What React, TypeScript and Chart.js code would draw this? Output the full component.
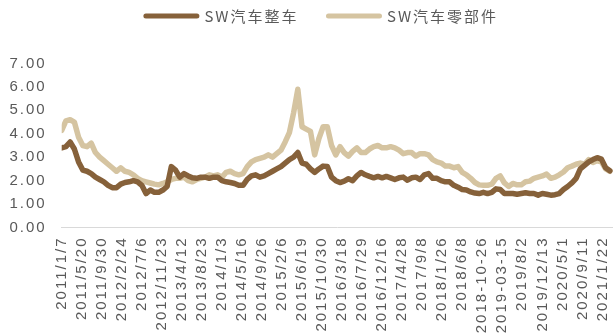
import { useEffect, useRef } from 'react';
import { Chart, registerables } from 'chart.js';

Chart.register(...registerables);

// x-axis tick labels (one every 19 weekly observations)
const tickLabels = [
  '2011/1/7', '2011/5/20', '2011/9/30', '2012/2/24', '2012/7/6', '2012/11/23',
  '2013/4/12', '2013/8/23', '2014/1/3', '2014/5/16', '2014/9/26', '2015/2/6',
  '2015/6/19', '2015/10/30', '2016/3/18', '2016/7/29', '2016/12/16', '2017/4/28',
  '2017/9/8', '2018/1/26', '2018/6/8', '2018-10-26', '2019-03-15', '2019/8/2',
  '2019/12/13', '2020/5/1', '2020/9/11', '2021/1/22',
];
const weeksPerTick = 19;
const sampleStep = 4; // weeks between the sampled values below
const lastWeek = 523;

const seriesNames = ['SW汽车整车', 'SW汽车零部件'];

// SW汽车整车
const autoValues = [
  3.4, 3.45, 3.65, 3.35, 2.8, 2.45, 2.4, 2.3, 2.15, 2.05,
  1.95, 1.8, 1.7, 1.7, 1.85, 1.92, 1.95, 2.0, 1.95, 1.8,
  1.45, 1.6, 1.5, 1.5, 1.6, 1.75, 2.6, 2.45, 2.15, 2.3,
  2.2, 2.12, 2.1, 2.15, 2.15, 2.1, 2.15, 2.15, 2.0, 1.95,
  1.92, 1.88, 1.8, 1.8, 2.05, 2.2, 2.25, 2.15, 2.2, 2.3,
  2.4, 2.5, 2.6, 2.75, 2.9, 3.0, 3.2, 2.75, 2.7, 2.5,
  2.35, 2.5, 2.62, 2.6, 2.15, 2.0, 1.92, 1.98, 2.08, 2.0,
  2.2, 2.35, 2.25, 2.18, 2.12, 2.18, 2.12, 2.18, 2.12, 2.05,
  2.12, 2.15, 2.02, 2.12, 2.15, 2.05, 2.25, 2.3, 2.1, 2.1,
  2.0, 1.95, 1.95, 1.8, 1.72, 1.62, 1.6, 1.52, 1.47, 1.45,
  1.5, 1.45, 1.5, 1.65, 1.62, 1.45, 1.45, 1.45, 1.42, 1.45,
  1.48, 1.45, 1.45, 1.38, 1.45, 1.42, 1.38, 1.4, 1.45, 1.62,
  1.75, 1.9, 2.1, 2.5, 2.65, 2.8, 2.9, 2.98, 2.92, 2.55, 2.42,
];

// SW汽车零部件
const partsValues = [
  4.15, 4.55, 4.6, 4.5, 3.85, 3.5, 3.45, 3.6, 3.2, 3.0,
  2.85, 2.7, 2.55, 2.4, 2.55, 2.4, 2.35, 2.25, 2.1, 2.0,
  1.95, 1.9, 1.85, 1.82, 1.88, 1.95, 2.05, 2.1, 2.1, 2.15,
  2.0, 1.95, 2.05, 2.1, 2.15, 2.25, 2.2, 2.25, 2.15, 2.35,
  2.4, 2.3, 2.25, 2.3, 2.6, 2.8, 2.9, 2.95, 3.0, 3.1,
  3.0, 3.15, 3.3, 3.65, 4.05, 4.9, 5.9, 4.3, 4.2, 4.1,
  3.1, 3.8, 4.3, 4.3, 3.5, 3.1, 3.45, 3.2, 3.05, 3.25,
  3.4, 3.2, 3.2, 3.35, 3.45, 3.5, 3.4, 3.4, 3.45, 3.4,
  3.3, 3.15, 3.2, 3.2, 3.05, 3.15, 3.15, 3.1, 2.9, 2.8,
  2.75, 2.62, 2.62, 2.55, 2.6, 2.35, 2.25, 2.1, 1.92, 1.82,
  1.8, 1.8, 1.85, 2.1, 2.2, 1.9, 1.75, 1.88, 1.82, 1.82,
  1.95, 1.98, 2.1, 2.15, 2.2, 2.28, 2.1, 2.15, 2.25, 2.37,
  2.55, 2.62, 2.7, 2.75, 2.7, 2.9, 2.78, 2.85, 2.8, 2.5, 2.4,
];

const colors = ['#86613A', '#D5C4A1'];
const textColor = '#595959';
const axisFont = { family: '"Liberation Sans", Arial, sans-serif', size: 15 };
const legendFont = { family: '"Noto Sans CJK SC", sans-serif', size: 15 };
const legendPadding = 30;
const legendCenterY = 16;
const legendOffsetX = 15.5;

const spacingPlugin = {
  id: 'letterSpacing',
  beforeUpdate(chart: any) { chart.ctx.letterSpacing = '2px'; },
  beforeLayout(chart: any) { chart.ctx.letterSpacing = '2px'; },
  beforeDraw(chart: any) { chart.ctx.letterSpacing = '2px'; },
};

const legendShift = {
  id: 'legendShift',
  afterLayout(chart: any) {
    const lg = chart.legend;
    if (!lg) return;
    const dy = legendCenterY - (lg.top + legendPadding + legendFont.size / 2);
    lg.top += dy;
    lg.bottom += dy;
    lg.left += legendOffsetX;
    lg.right += legendOffsetX;
  },
};

export default function App() {
  const ref = useRef<HTMLCanvasElement | null>(null);

  useEffect(() => {
    document.body.style.margin = '0';
    const canvas = ref.current;
    if (!canvas) return;
    const toPoints = (vals: number[]) => vals.map((v, i) => ({ x: i * sampleStep, y: v }));
    const series = [autoValues, partsValues];
    const chart = new Chart(canvas, {
      type: 'line',
      data: {
        datasets: series.map((vals, i) => ({
          label: seriesNames[i],
          data: toPoints(vals),
          borderColor: colors[i],
          backgroundColor: colors[i],
          pointBorderColor: colors[i],
          pointBackgroundColor: colors[i],
          borderWidth: 5.5,
          pointBorderWidth: 5,
          pointRadius: 0,
          pointHoverRadius: 0,
          borderCapStyle: 'round',
          borderJoinStyle: 'round',
          tension: 0,
          fill: false,
        })),
      },
      options: {
        responsive: false,
        animation: false,
        events: [],
        layout: { padding: { left: 0, right: 0, top: 8.5, bottom: 0 } },
        plugins: {
          tooltip: { enabled: false },
          legend: {
            display: true,
            position: 'top',
            align: 'center',
            labels: {
              usePointStyle: true,
              pointStyle: 'line',
              pointStyleWidth: 51,
              padding: legendPadding,
              font: legendFont,
              color: textColor,
              generateLabels: (c: any) =>
                (Chart.defaults.plugins.legend.labels as any).generateLabels(c).map((l: any, i: number) => ({
                  ...l,
                  lineCap: 'round',
                  lineWidth: 5,
                  strokeStyle: colors[i],
                  fillStyle: colors[i],
                })),
            },
          },
        },
        scales: {
          x: {
            type: 'linear',
            min: 0,
            max: lastWeek,
            grid: { display: false, drawTicks: false },
            border: { display: true, color: '#D9D9D9', width: 1 },
            ticks: {
              autoSkip: false,
              maxRotation: 90,
              minRotation: 90,
              padding: 9,
              font: axisFont,
              color: textColor,
              callback: (_v: any, i: number) => tickLabels[i] ?? '',
            },
            afterBuildTicks: (axis: any) => {
              axis.ticks = tickLabels.map((_, i) => ({ value: i * weeksPerTick }));
            },
            afterFit: (axis: any) => {
              axis.height = 107.5;
              axis.paddingLeft = 0;
              axis.paddingRight = 0;
            },
          },
          y: {
            min: 0,
            max: 7,
            grid: { display: false, drawTicks: false },
            border: { display: false },
            ticks: {
              stepSize: 1,
              padding: 15,
              font: axisFont,
              color: textColor,
              callback: (v: any) => Number(v).toFixed(2),
            },
            afterFit: (axis: any) => {
              axis.width = 61.7;
              axis.paddingTop = 0;
              axis.paddingBottom = 0;
            },
          },
        },
      } as any,
      plugins: [spacingPlugin, legendShift],
    });
    return () => chart.destroy();
  }, []);

  return (
    <div style={{ width: 613, height: 335 }}>
      <canvas ref={ref} width={613} height={335} style={{ display: 'block' }} />
    </div>
  );
}
